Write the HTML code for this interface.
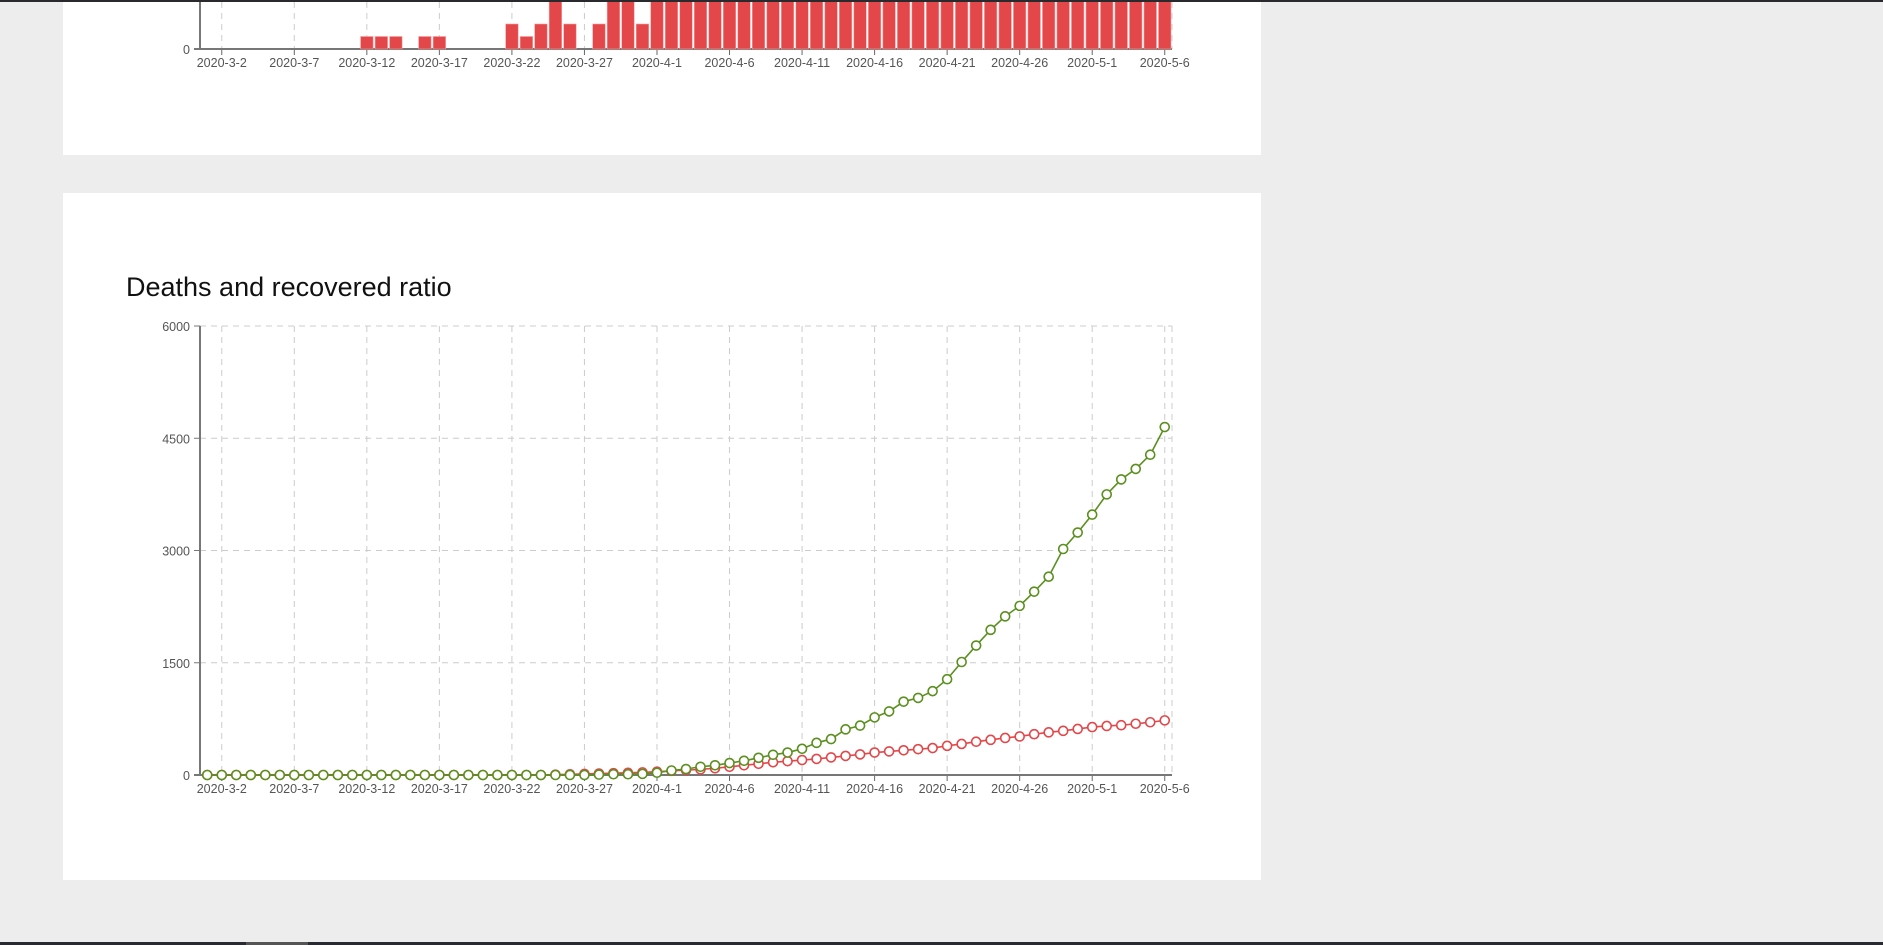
<!DOCTYPE html>
<html><head><meta charset="utf-8"><style>
html,body{margin:0;padding:0;background:#ededed;width:1883px;height:945px;overflow:hidden}
svg{display:block;font-family:"Liberation Sans",sans-serif}
</style></head><body>
<svg id="root" width="1883" height="945">
<rect x="0" y="0" width="1883" height="2" fill="#2a2a2e"/>
<rect x="63" y="2" width="1198" height="153" fill="#fff"/>
<rect x="63" y="193" width="1198" height="687" fill="#fff"/>
<rect x="0" y="942" width="1883" height="3" fill="#2a2a33"/>
<rect x="246" y="942" width="62" height="3" fill="#555"/>
<text x="126" y="296" font-size="27" fill="#111">Deaths and recovered ratio</text>
<g id="topchart"></g>
<g id="botchart"></g>
</svg>
<script>
const dates=[];for(let d=1;d<=31;d++)dates.push('2020-3-'+d);for(let d=1;d<=30;d++)dates.push('2020-4-'+d);for(let d=1;d<=6;d++)dates.push('2020-5-'+d);
const dailyDeaths=[0,0,0,0,0,0,0,0,0,0,0,1,1,1,0,1,1,0,0,0,0,2,1,2,4,2,0,2,4,6,2,8,10,12,14,12,15,18,16,20,22,25,24,20,22,25,28,24,26,30,28,25,27,26,24,28,25,22,24,26,25,20,18,22,20,21,24];
const recovered=[0,0,0,0,0,0,0,0,0,0,0,0,0,0,0,0,0,0,0,0,0,0,0,0,0,0,0,5,10,10,15,30,60,80,110,130,160,190,230,270,300,350,430,480,610,660,770,850,980,1030,1120,1280,1510,1730,1940,2120,2260,2450,2650,3020,3240,3480,3750,3950,4090,4280,4650];
const deaths=[0,0,0,0,0,0,0,0,0,0,0,0,0,0,0,0,0,0,0,0,0,0,0,0,5,10,15,20,25,30,35,45,55,65,75,90,110,130,150,170,185,200,215,235,255,275,300,315,330,345,360,390,415,445,470,495,515,545,570,590,615,640,655,665,685,705,730];
const yTicks=[0,1500,3000,4500,6000];
const NS='http://www.w3.org/2000/svg';
function mk(p,t,a){const e=document.createElementNS(NS,t);for(const k in a)e.setAttribute(k,a[k]);p.appendChild(e);return e;}
const x0=200,x1=1172,bw=(x1-x0)/dates.length;
const xs=i=>x0+bw*(i+0.5);
function xaxis(g,base,ytop){
  dates.forEach((d,i)=>{if((i-1)%5===0){
    const gl=mk(g,'line',{x1:xs(i),x2:xs(i),y1:ytop,y2:base,stroke:'#ccc','stroke-dasharray':'6,5'});
    
    
    mk(g,'line',{x1:xs(i),x2:xs(i),y1:base,y2:base+6,stroke:'#666'});
    const t=mk(g,'text',{x:xs(i),y:base+18,'text-anchor':'middle','font-size':12.5,fill:'#555'});t.textContent=d;
    
    
  }});
  mk(g,'line',{x1:x1,x2:x1,y1:ytop,y2:base,stroke:'#ccc','stroke-dasharray':'6,5'});
  const ax=mk(g,'line',{x1:x0-6,x2:x1,y1:base,y2:base,stroke:'#777','stroke-width':2});
  
  
}
const topG=document.getElementById('topchart');
const tb=49,unit=12.5;
const cp=mk(topG,'clipPath',{id:'cp'});mk(cp,'rect',{x:0,y:2,width:1883,height:200});
xaxis(topG,tb,2);
const bars=mk(topG,'g',{'clip-path':'url(#cp)'});
dailyDeaths.forEach((v,i)=>{if(v>0){const r=mk(bars,'rect',{x:xs(i)-bw/2+1,y:tb-v*unit,width:bw-2,height:v*unit,fill:'#e3474a',stroke:'#f3a0a0','stroke-width':0.6});

}});
mk(topG,'line',{x1:x0,x2:x0,y1:2,y2:tb,stroke:'#777','stroke-width':2});
const t0=mk(topG,'text',{x:x0-10,y:tb+5,'text-anchor':'end','font-size':12.5,fill:'#555'});t0.textContent='0';


const botG=document.getElementById('botchart');
const yb=775,yt=326,ys=v=>yb-(v/6000)*(yb-yt);
yTicks.forEach(v=>{
  if(v>0){const l=mk(botG,'line',{x1:x0,x2:x1,y1:ys(v),y2:ys(v),stroke:'#ccc','stroke-dasharray':'6,5'});
  
  }
  mk(botG,'line',{x1:x0-6,x2:x0,y1:ys(v),y2:ys(v),stroke:'#777'});
  const t=mk(botG,'text',{x:x0-10,y:ys(v)+5,'text-anchor':'end','font-size':12.5,fill:'#555'});t.textContent=v;
  
  
});
xaxis(botG,yb,yt);
mk(botG,'line',{x1:x0,x2:x0,y1:yt,y2:yb,stroke:'#777','stroke-width':2});
function series(vals,col,name){
  const p=mk(botG,'polyline',{points:vals.map((v,i)=>xs(i)+','+ys(v)).join(' '),fill:'none',stroke:col,'stroke-width':1.6});
  
  
  vals.forEach((v,i)=>{const c=mk(botG,'circle',{cx:xs(i),cy:ys(v),r:4.5,fill:'#fff',stroke:col,'stroke-width':1.6});
  
  });
}
series(deaths,'#e3474a','deaths');
series(recovered,'#5b8f1f','recovered');
</script>
</body></html>
